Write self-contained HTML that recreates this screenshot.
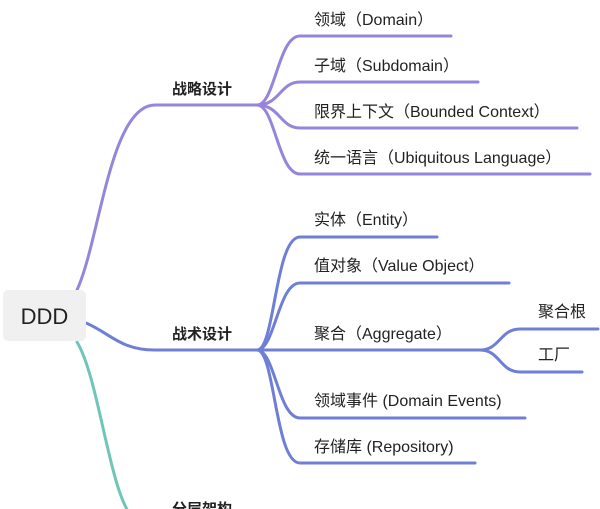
<!DOCTYPE html>
<html><head><meta charset="utf-8"><style>
html,body{margin:0;padding:0;background:#fff;width:600px;height:509px;overflow:hidden}
text{font-family:"Liberation Sans","Noto Sans CJK SC",sans-serif;fill:#222}
</style></head><body>
<svg width="600" height="509" viewBox="0 0 600 509" xmlns="http://www.w3.org/2000/svg">
<g fill="none" stroke-width="3" stroke-linecap="round">
<g stroke="#9585db">
<path d="M77 290 C100 240,110 105,155 105 L257 105"/>
<path d="M257 105 C275 105,278 36,300 36 L451 36"/>
<path d="M257 105 C280 105,280 82,300 82 L478 82"/>
<path d="M257 105 C280 105,280 128,300 128 L577 128"/>
<path d="M257 105 C275 105,278 174,300 174 L590 174"/>
</g>
<g stroke="#6f7ed6">
<path d="M86 323 C110 333,120 350,155 350 L257 350"/>
<path d="M257 350 C275 350,275 237,300 237 L437 237"/>
<path d="M257 350 C275 350,278 283,300 283 L509 283"/>
<path d="M257 350 L480 350"/>
<path d="M480 350 C500 350,500 329,520 329 L598 329"/>
<path d="M480 350 C500 350,500 372,520 372 L582 372"/>
<path d="M257 350 C275 350,278 418,300 418 L525 418"/>
<path d="M257 350 C275 350,275 463,300 463 L475 463"/>
</g>
<path stroke="#6ec6b9" d="M77 342 C100 380,110 500,135 520"/>
</g>
<rect x="3" y="290" width="83" height="51" rx="5" fill="#f0f0f0"/>
<text x="44.5" y="324" font-size="22" text-anchor="middle">DDD</text>
<g font-size="15" font-weight="bold">
<text x="172" y="94">战略设计</text>
<text x="172" y="339">战术设计</text>
<text x="172" y="514">分层架构</text>
</g>
<g font-size="16">
<text x="314" y="25">领域（Domain）</text>
<text x="314" y="71">子域（Subdomain）</text>
<text x="314" y="117">限界上下文（Bounded Context）</text>
<text x="314" y="163">统一语言（Ubiquitous Language）</text>
<text x="314" y="225">实体（Entity）</text>
<text x="314" y="271">值对象（Value Object）</text>
<text x="314" y="339">聚合（Aggregate）</text>
<text x="314" y="406">领域事件 (Domain Events)</text>
<text x="314" y="452">存储库 (Repository)</text>
<text x="538" y="317">聚合根</text>
<text x="538" y="360">工厂</text>
</g>
</svg>
</body></html>
